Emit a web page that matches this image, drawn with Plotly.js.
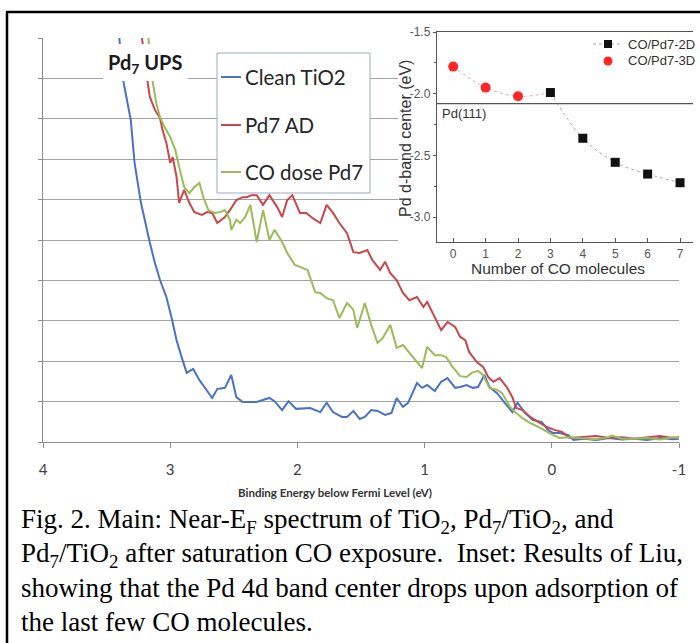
<!DOCTYPE html>
<html>
<head>
<meta charset="utf-8">
<script src="https://cdn.plot.ly/plotly-3.0.1.min.js"></script>
<style>
  html, body { margin: 0; padding: 0; background: #ffffff; }
  #fig { width: 700px; height: 643px; }
</style>
</head>
<body>
<div id="fig"></div>
<script>
// ---- Main panel: near-EF UPS spectra (binding energy in eV, intensity in grid units) ----
const cleanName = 'Clean TiO2';
const cleanEnergy = [
  3.42, 3.40, 3.37, 3.31, 3.28, 3.23, 3.16, 3.12, 3.08, 3.03,
  2.99, 2.95, 2.91, 2.87, 2.82, 2.77, 2.67, 2.63, 2.57, 2.52,
  2.48, 2.43, 2.32, 2.22, 2.18, 2.12, 2.07, 2.01, 1.90, 1.82,
  1.77, 1.72, 1.65, 1.61, 1.56, 1.51, 1.47, 1.42, 1.37, 1.31,
  1.26, 1.22, 1.17, 1.13, 1.06, 1.02, 0.98, 0.92, 0.87, 0.82,
  0.76, 0.72, 0.67, 0.62, 0.58, 0.53, 0.49, 0.43, 0.37, 0.31,
  0.27, 0.21, 0.15, 0.08, 0.03, -0.01, -0.06, -0.13, -0.17, -0.25,
  -0.35, -0.45, -0.55, -0.65, -0.75, -0.85, -0.95, -1.00
];
const cleanIntensity = [
  10.5, 10.0, 8.96, 7.97, 6.91, 5.92, 4.93, 4.43, 4.01, 3.59,
  3.09, 2.52, 2.10, 1.71, 1.81, 1.53, 1.09, 1.31, 1.34, 1.66,
  1.11, 0.99, 0.99, 1.09, 1.01, 0.79, 1.01, 0.82, 0.84, 0.74,
  0.97, 0.74, 0.62, 0.62, 0.77, 0.57, 0.62, 0.79, 0.77, 0.67,
  0.72, 1.09, 0.87, 0.97, 1.46, 1.34, 1.41, 1.26, 1.49, 1.58,
  1.34, 1.36, 1.41, 1.34, 1.36, 1.66, 1.36, 1.21, 0.97, 0.74,
  0.97, 0.72, 0.54, 0.50, 0.30, 0.22, 0.22, 0.17, 0.05, 0.08,
  0.05, 0.10, 0.06, 0.08, 0.05, 0.10, 0.07, 0.08
];

const pdName = 'Pd7 AD';
const pdEnergy = [
  3.23, 3.22, 3.18, 3.16, 3.12, 3.08, 3.06, 3.03, 3.00, 2.98,
  2.95, 2.93, 2.89, 2.85, 2.81, 2.75, 2.71, 2.67, 2.63, 2.57,
  2.52, 2.48, 2.43, 2.40, 2.36, 2.32, 2.27, 2.22, 2.16, 2.12,
  2.08, 2.04, 1.98, 1.93, 1.88, 1.82, 1.77, 1.72, 1.67, 1.61,
  1.56, 1.51, 1.45, 1.41, 1.35, 1.31, 1.27, 1.22, 1.17, 1.12,
  1.06, 1.01, 0.98, 0.92, 0.87, 0.82, 0.76, 0.72, 0.68, 0.65,
  0.59, 0.54, 0.50, 0.46, 0.41, 0.35, 0.31, 0.28, 0.23, 0.17,
  0.11, 0.04, -0.02, -0.08, -0.14, -0.25, -0.35, -0.45, -0.55, -0.65,
  -0.75, -0.85, -0.95, -1.00
];
const pdIntensity = [
  10.5, 9.95, 8.96, 8.54, 8.22, 8.02, 7.72, 7.40, 6.91, 7.05,
  6.56, 5.92, 6.24, 5.92, 5.69, 5.62, 5.69, 5.67, 5.42, 5.57,
  5.79, 5.99, 6.06, 6.06, 6.11, 6.11, 5.87, 6.11, 5.82, 5.57,
  5.99, 6.11, 5.67, 5.67, 5.54, 5.42, 5.87, 5.67, 5.42, 5.17,
  4.70, 4.68, 4.75, 4.50, 4.26, 4.46, 4.18, 4.01, 3.69, 3.51,
  3.59, 3.34, 3.47, 3.09, 2.77, 2.97, 2.85, 2.60, 2.52, 2.23,
  1.98, 1.86, 1.61, 1.49, 1.58, 1.34, 1.11, 0.84, 0.79, 0.62,
  0.50, 0.37, 0.30, 0.25, 0.10, 0.12, 0.15, 0.10, 0.12, 0.08,
  0.12, 0.15, 0.10, 0.12
];

const coName = 'CO dose Pd7';
const coEnergy = [
  3.19, 3.17, 3.14, 3.11, 3.08, 3.04, 3.00, 2.96, 2.93, 2.89,
  2.85, 2.81, 2.77, 2.74, 2.70, 2.65, 2.61, 2.57, 2.53, 2.52,
  2.48, 2.45, 2.41, 2.37, 2.32, 2.27, 2.22, 2.18, 2.12, 2.08,
  2.02, 1.97, 1.92, 1.86, 1.82, 1.77, 1.72, 1.67, 1.61, 1.56,
  1.53, 1.47, 1.42, 1.37, 1.33, 1.27, 1.22, 1.17, 1.12, 1.06,
  1.02, 0.98, 0.92, 0.87, 0.83, 0.78, 0.72, 0.67, 0.63, 0.58,
  0.54, 0.49, 0.43, 0.39, 0.33, 0.28, 0.23, 0.17, 0.09, 0.02,
  -0.06, -0.13, -0.25, -0.35, -0.45, -0.47, -0.55, -0.65, -0.75, -0.85,
  -0.95, -1.00
];
const coIntensity = [
  10.5, 9.95, 8.96, 8.39, 8.04, 7.77, 7.55, 7.23, 6.81, 6.31,
  6.16, 6.31, 6.41, 6.06, 5.74, 5.67, 5.69, 5.74, 5.50, 5.25,
  5.50, 5.42, 5.57, 5.87, 4.95, 5.74, 5.00, 5.25, 4.95, 4.68,
  4.38, 4.31, 4.26, 3.71, 3.69, 3.56, 3.51, 3.07, 3.44, 3.27,
  2.82, 3.44, 2.90, 2.45, 2.57, 2.90, 2.33, 2.40, 2.20, 1.98,
  1.83, 2.35, 2.15, 2.15, 2.10, 1.86, 1.63, 1.61, 1.71, 1.76,
  1.66, 1.34, 1.29, 1.21, 0.87, 0.72, 0.59, 0.47, 0.35, 0.22,
  0.10, 0.12, 0.10, 0.07, 0.12, 0.16, 0.08, 0.08, 0.10, 0.06,
  0.12, 0.10
];

const energyTicks = [4, 3, 2, 1, 0, -1];
const energyTickText = ['4', '3', '2', '1', '0', '-1'];

// ---- Inset: Pd d-band center vs number of adsorbed CO ----
const name2D = 'CO/Pd7-2D';
const name3D = 'CO/Pd7-3D';
const coCount3D = [0, 1, 2];
const dband3D = [-1.78, -1.95, -2.02];
const coCount2D = [3, 4, 5, 6, 7];
const dband2D = [-1.99, -2.36, -2.555, -2.65, -2.72];
const pd111Level = -2.08;
const countTicks = [0, 1, 2, 3, 4, 5, 6, 7];
const dbandTicks = [-3.0, -2.5, -2.0, -1.5];
const dbandTickText = ['-3.0', '-2.5', '-2.0', '-1.5'];

const colors = { clean: '#4a72c4', pd: '#c9464b', co: '#9bbb59' };

// ---- page geometry helpers (pixel -> paper / main-axis coordinates) ----
const W = 700, H = 643;
const M = { l: 43, r: 7, t: 32, b: 201 };
const PW = W - M.l - M.r, PH = H - M.t - M.b;
const px = x => (x - M.l) / PW;
const py = y => (H - M.b - y) / PH;
const eX = p => 4 - (p - 43) * 5 / 636;     // pixel -> main x (eV)
const iY = p => 10 - (p - 38) * 10 / 404;   // pixel -> main y

const traces = [
  { x: cleanEnergy, y: cleanIntensity, name: cleanName, mode: 'lines',
    line: { color: colors.clean, width: 2 }, xaxis: 'x', yaxis: 'y' },
  { x: pdEnergy, y: pdIntensity, name: pdName, mode: 'lines',
    line: { color: colors.pd, width: 2 }, xaxis: 'x', yaxis: 'y' },
  { x: coEnergy, y: coIntensity, name: coName, mode: 'lines',
    line: { color: colors.co, width: 2 }, xaxis: 'x', yaxis: 'y' },
  // inset guide curves
  { x: coCount3D.concat([coCount2D[0]]), y: dband3D.concat([dband2D[0]]), mode: 'lines',
    line: { color: '#e2a9a9', width: 1, dash: 'dot', shape: 'spline' }, xaxis: 'x2', yaxis: 'y2' },
  { x: coCount2D, y: dband2D, mode: 'lines',
    line: { color: '#a8a8a8', width: 1, dash: 'dot', shape: 'spline' }, xaxis: 'x2', yaxis: 'y2' },
  { x: coCount3D, y: dband3D, name: name3D, mode: 'markers',
    marker: { symbol: 'circle', size: 10, color: '#ff2626' }, xaxis: 'x2', yaxis: 'y2' },
  { x: coCount2D, y: dband2D, name: name2D, mode: 'markers',
    marker: { symbol: 'square', size: 9, color: '#111111' }, xaxis: 'x2', yaxis: 'y2' }
];

const calibri = 'Lato, "Open Sans", sans-serif';
const arial = '"Liberation Sans", Arial, sans-serif';
const times = '"Liberation Serif", "Times New Roman", serif';

const shapes = [
  // white panel behind the inset
  { type: 'rect', xref: 'x', yref: 'y', layer: 'between',
    x0: eX(398), x1: eX(720), y0: iY(279), y1: iY(0),
    fillcolor: '#ffffff', line: { width: 0 } },
  // main legend box
  { type: 'rect', xref: 'x', yref: 'y', layer: 'between',
    x0: eX(217), x1: eX(370), y0: iY(193), y1: iY(53),
    fillcolor: '#ffffff', line: { color: '#9aabc9', width: 1 } },
  // white box behind the "Pd7 UPS" label
  { type: 'rect', xref: 'x', yref: 'y', layer: 'above',
    x0: eX(103), x1: eX(188), y0: iY(81), y1: iY(44),
    fillcolor: '#ffffff', line: { width: 0 } },
  // Pd(111) reference level in the inset
  { type: 'line', xref: 'x2 domain', yref: 'y2', x0: 0, x1: 1,
    y0: pd111Level, y1: pd111Level, line: { color: '#555555', width: 1.2 } },
  // figure frame
  { type: 'line', xref: 'paper', yref: 'paper', x0: px(7), x1: px(7), y0: py(12), y1: py(660),
    line: { color: '#000000', width: 2.5 } },
  { type: 'line', xref: 'paper', yref: 'paper', x0: px(6), x1: px(710), y0: py(12), y1: py(12),
    line: { color: '#000000', width: 2.5 } },
  // inset legend symbols
  { type: 'line', xref: 'paper', yref: 'paper', x0: px(593), x1: px(623), y0: py(44), y1: py(44),
    line: { color: '#a8a8a8', width: 1, dash: 'dot' } },
  { type: 'rect', xref: 'paper', yref: 'paper', x0: px(604), x1: px(612), y0: py(48), y1: py(40),
    fillcolor: '#111111', line: { width: 0 } },
  { type: 'circle', xref: 'paper', yref: 'paper', x0: px(603.5), x1: px(612.5), y0: py(65.5), y1: py(56.5),
    fillcolor: '#ff2626', line: { width: 0 } }
];

const legendRows = [
  { name: cleanName, color: colors.clean, y: 77 },
  { name: pdName, color: colors.pd, y: 125 },
  { name: coName, color: colors.co, y: 172 }
];
legendRows.forEach(r => {
  shapes.push({ type: 'line', xref: 'paper', yref: 'paper', x0: px(221), x1: px(241),
    y0: py(r.y), y1: py(r.y), line: { color: r.color, width: 2 } });
});

// every annotation is pinned by its centre (or left edge) in page pixels
function label(text, x, y, font, extra) {
  return Object.assign({ text: text, x: px(x), y: py(y), xref: 'paper', yref: 'paper',
    xanchor: 'center', yanchor: 'middle', showarrow: false, font: font }, extra || {});
}

const annotations = [
  label('<b>Pd<sub>7</sub> UPS</b>', 145, 64, { family: calibri, size: 20, color: '#1a1a1a' }),
  label('<b>Binding Energy below Fermi Level (eV)</b>', 335, 492, { family: calibri, size: 11.5, color: '#333333' }),
  label('Pd d-band center (eV)', 405, 139, { family: arial, size: 16, color: '#333333' }, { textangle: -90 }),
  label('Number of CO molecules', 558, 268.5, { family: arial, size: 15.5, color: '#333333' }),
  label('Pd(111)', 440, 114, { family: arial, size: 13, color: '#333333' }, { xanchor: 'left' }),
  label(name2D, 626, 44, { family: arial, size: 13, color: '#333333' }, { xanchor: 'left' }),
  label(name3D, 626, 61, { family: arial, size: 13, color: '#333333' }, { xanchor: 'left' })
];
legendRows.forEach(r => {
  annotations.push(label(r.name, 243, r.y, { family: calibri, size: 20.5, color: '#262626' }, { xanchor: 'left' }));
});

const captionLines = [
  'Fig. 2. Main: Near-E<sub>F</sub> spectrum of TiO<sub>2</sub>, Pd<sub>7</sub>/TiO<sub>2</sub>, and',
  'Pd<sub>7</sub>/TiO<sub>2</sub> after saturation CO exposure.&nbsp; Inset: Results of Liu,',
  'showing that the Pd 4d band center drops upon adsorption of',
  'the last few CO molecules.'
];
const captionY = [521, 555, 588, 622];
captionLines.forEach((t, i) => {
  annotations.push(label(t, 19, captionY[i], { family: times, size: 27, color: '#000000' }, { xanchor: 'left' }));
});

const layout = {
  width: W, height: H,
  margin: { l: M.l, r: M.r, t: M.t, b: M.b, pad: 0 },
  paper_bgcolor: '#ffffff', plot_bgcolor: 'rgba(0,0,0,0)',
  showlegend: false,
  xaxis: {
    domain: [0, px(679)], range: [4, -1], anchor: 'y',
    tickmode: 'array', tickvals: energyTicks, ticktext: energyTickText,
    ticks: 'outside', ticklen: 5, tickcolor: '#8c8c8c',
    showline: true, linecolor: '#8c8c8c', linewidth: 1,
    showgrid: false, zeroline: false, ticklabelstandoff: 9,
    tickfont: { family: calibri, size: 15, color: '#404040' }
  },
  yaxis: {
    domain: [0, py(38)], range: [0, 10], anchor: 'x',
    tick0: 0, dtick: 1, showgrid: true, gridcolor: '#a3a3a3', gridwidth: 1,
    showline: true, linecolor: '#8c8c8c', linewidth: 1,
    ticks: 'outside', ticklen: 4, tickcolor: '#8c8c8c',
    showticklabels: false, zeroline: false
  },
  xaxis2: {
    domain: [px(437), 1], range: [-0.5, 7.4], anchor: 'y2',
    tickmode: 'array', tickvals: countTicks,
    ticks: 'inside', ticklen: 4, tickcolor: '#555555',
    showline: true, mirror: true, linecolor: '#555555', linewidth: 1.2,
    showgrid: false, zeroline: false,
    tickfont: { family: arial, size: 12, color: '#555555' }
  },
  yaxis2: {
    domain: [py(242), 1], range: [-3.2, -1.5], anchor: 'x2',
    tickmode: 'array', tickvals: dbandTicks, ticktext: dbandTickText,
    ticks: 'outside', ticklen: 3, tickcolor: '#555555',
    minor: { tick0: -1.5, dtick: 0.25, ticks: 'outside', ticklen: 2, tickcolor: '#555555' },
    showline: true, linecolor: '#555555', linewidth: 1.2,
    showgrid: false, zeroline: false,
    tickfont: { family: arial, size: 12, color: '#555555' }
  },
  shapes: shapes,
  annotations: annotations
};

Plotly.newPlot('fig', traces, layout, { displayModeBar: false, staticPlot: true });
</script>
</body>
</html>
